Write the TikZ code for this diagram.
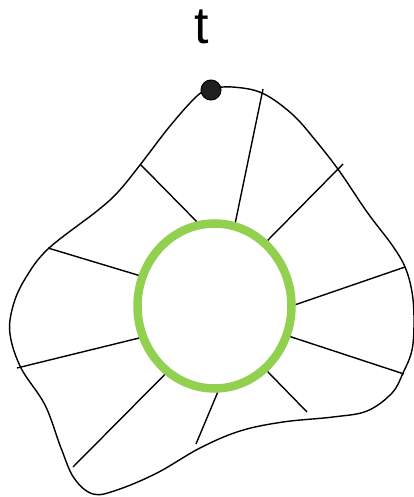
\documentclass[tikz,border=0pt]{standalone}
\usepackage{fontspec}
\usepackage{tikz}
\usetikzlibrary{shapes.geometric}
\newfontfamily\labelfont{Liberation Sans}
\definecolor{ringgreen}{RGB}{146,208,80}

\begin{document}
\begin{tikzpicture}[x=1pt,y=-1pt,
    ring/.style={ellipse,draw=ringgreen,line width=8.5pt,minimum width=154pt,minimum height=165pt,inner sep=0pt,outer sep=4.25pt},
    vertex/.style={circle,draw,fill=black!88,line width=1pt,minimum size=20pt,inner sep=0pt},
    spoke/.style={line width=1.4pt},
    blob/.style={line width=1.4pt}]

\useasboundingbox (0,0) rectangle (414,497);

\draw[blob] plot[smooth cycle,tension=0.6] coordinates {
  (211,89) (232,87) (262,93) (292,114) (316,141) (340,172) (367,212)
  (392,245) (405,267) (412,292) (414,320) (412,350) (403,373) (392,393)
  (367,411) (333,417) (283,422) (240,431) (200,448) (157,473) (117,490)
  (93,494) (74,478) (61,448) (45,405) (21,368) (10,334) (13,306) (25,279)
  (48,249) (97,211) (118,192) (140,165) (170,126) (197,96)};

\node[ring] (ring) at (214.5,306) {};

\coordinate (o1) at (140,164);
\coordinate (o2) at (263,89);
\coordinate (o3) at (343,164);
\coordinate (o4) at (48,248);
\coordinate (o5) at (405,267);
\coordinate (o6) at (17,368);
\coordinate (o7) at (404,374);
\coordinate (o8) at (73,467);
\coordinate (o9) at (196,444);
\coordinate (o10) at (307,412);

\foreach \a/\p in {102/o1,76/o2,51/o3,158/o4,1/o5,203/o6,338/o7,234/o8,272/o9,309/o10}
  \draw[spoke] (ring.\a) -- (\p);

\node[vertex] (t) at (211,90) {};
\node[font=\labelfont\fontsize{52}{52}\selectfont,anchor=base,inner sep=0pt] (tlabel) at (202,44) {t};
\end{tikzpicture}
\end{document}
